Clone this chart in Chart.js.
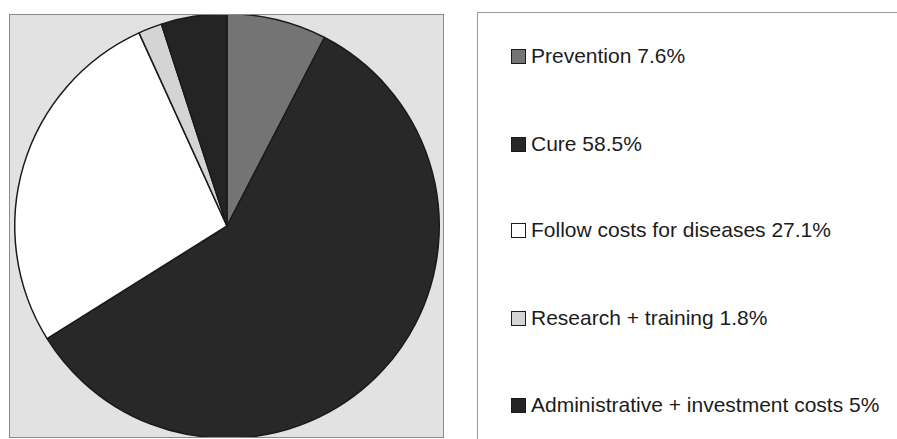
<!DOCTYPE html>
<html>
<head>
<meta charset="utf-8">
<script src="https://cdn.jsdelivr.net/npm/chart.js@4/dist/chart.umd.min.js"></script>
<style>
  html, body { margin: 0; padding: 0; width: 897px; height: 439px; overflow: hidden; background: #ffffff; }
  #pieBox { position: absolute; left: 9px; top: 14px; width: 435px; height: 424px; overflow: hidden;
            background: #e2e2e2; border: 1px solid #8a8a8a; box-sizing: border-box; }
  #pieWrap { position: absolute; left: -10px; top: -15px; width: 456px; height: 456px; }
  #legendBox { position: absolute; left: 477px; top: 12px; width: 440px; height: 440px;
               border: 1px solid #9a9a9a; box-sizing: border-box; background: #fff; }
  .item { position: absolute; left: 33px; height: 24px; display: flex; align-items: center;
          font-family: "Liberation Sans", Arial, sans-serif; font-size: 21px; color: #1c1c1c; white-space: nowrap; }
  .sw { width: 13px; height: 13px; border: 1.5px solid #1a1a1a; margin-right: 5px; flex: none; }
</style>
</head>
<body>
<div id="pieBox"><div id="pieWrap"><canvas id="c"></canvas></div></div>
<div id="legendBox"></div>
<script>
const categories = ["Prevention", "Cure", "Follow costs for diseases", "Research + training", "Administrative + investment costs"];
const shares = [7.6, 58.5, 27.1, 1.8, 5];
const sliceColors = ["#747474", "#282828", "#ffffff", "#d4d4d4", "#242424"];
const legendRowCenters = [43, 131, 217, 305, 392];

new Chart(document.getElementById('c'), {
  type: 'pie',
  data: {
    labels: categories,
    datasets: [{
      data: shares,
      backgroundColor: sliceColors,
      borderColor: '#1a1a1a',
      borderWidth: 1.5
    }]
  },
  options: {
    responsive: true,
    maintainAspectRatio: false,
    animation: false,
    layout: { padding: { left: 14, right: 16, top: 13, bottom: 17 } },
    plugins: { legend: { display: false }, tooltip: { enabled: false } }
  }
});

const box = document.getElementById('legendBox');
categories.forEach((name, i) => {
  const row = document.createElement('div');
  row.className = 'item';
  row.style.top = (legendRowCenters[i] - 12) + 'px';
  const sw = document.createElement('span');
  sw.className = 'sw';
  sw.style.background = sliceColors[i];
  const tx = document.createElement('span');
  tx.textContent = name + ' ' + shares[i] + '%';
  row.appendChild(sw);
  row.appendChild(tx);
  box.appendChild(row);
});
</script>
</body>
</html>
